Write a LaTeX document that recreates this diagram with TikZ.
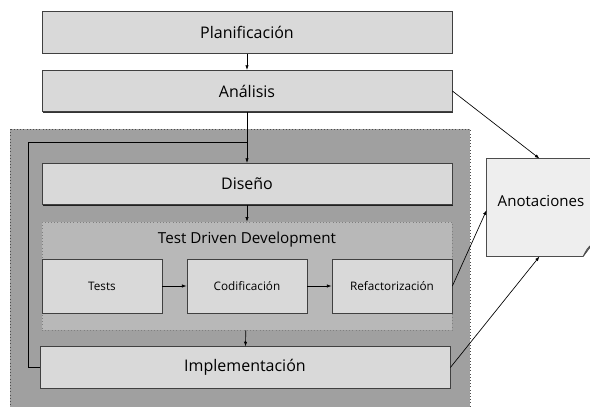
\documentclass[tikz,border=0pt]{standalone}
\usepackage{fontspec}
\setmainfont{Open Sans}
\usetikzlibrary{shadows,arrows.meta}
\definecolor{cajagris}{HTML}{D9D9D9}
\definecolor{fondogris}{HTML}{A0A0A0}
\definecolor{tddgris}{HTML}{B8B8B8}
\definecolor{notagris}{HTML}{EEEEEE}
\begin{document}
\begin{tikzpicture}[x=0.75pt,y=-0.75pt,
  fase/.style={draw=black!75,fill=cajagris,rectangle,line width=0.6pt,minimum width=307.5pt,minimum height=31pt,font=\fontsize{12}{14}\selectfont,
    drop shadow={shadow xshift=0.8pt,shadow yshift=-0.8pt,opacity=0.8,fill=black}},
  paso/.style={fase,minimum width=90pt,minimum height=40.5pt,font=\fontsize{8.8}{10}\selectfont},
  flecha/.style={-{Latex[length=3.5pt,width=2.5pt]},line width=0.5pt}]
\useasboundingbox (0,0) rectangle (590,407);
% iteracion
\draw[dotted,draw=black!70,fill=fondogris] (10,129) rectangle (470,412);
\node[fase] (P) at (247,32.5) {Planificación};
\node[fase] (A) at (247,91) {Análisis};
\node[fase] (D) at (247,184) {Diseño};
\node[draw=black!50,dotted,fill=tddgris,rectangle,minimum width=307.5pt,minimum height=81pt] (TDD) at (247,276) {};
\node[font=\fontsize{11.4}{13}\selectfont] (TT) at (247,240) {Test Driven Development};
\node[paso] (T) at (102,286) {Tests};
\node[paso] (C) at (247,286) {Codificación};
\node[paso] (R) at (392,286) {Refactorización};
\node[fase] (I) at (245,367.5) {Implementación};
% anotaciones
\node[rectangle,minimum width=79pt,minimum height=73pt] (N) at (539.5,207.5) {};
\draw[draw=black!70,line width=0.6pt,fill=notagris] (N.north west) -- (N.north east) -- ([yshift=9.5pt]N.south east)
  -- ([xshift=-7pt]N.south east) -- (N.south west) -- cycle;
\draw[draw=black!70,line width=0.5pt,fill=black!20] ([yshift=9.5pt]N.south east) .. controls ([xshift=-4pt,yshift=6pt]N.south east) .. ([xshift=-7pt]N.south east)
  -- ([xshift=-4pt,yshift=4pt]N.south east) -- cycle;
\node[font=\fontsize{11.3}{13}\selectfont] (NT) at (541,201) {Anotaciones};
\draw[flecha] (P) -- (A);
\draw[flecha] (A) -- (D);
\draw[flecha] (D) -- (TDD);
\draw[flecha] (TDD) -- (I);
\draw[flecha] (T) -- (C);
\draw[flecha] (C) -- (R);
\draw[line width=0.5pt] (I.west) -- (28,367.5) -- (28,142) -- (247,142);
\draw[flecha] (A.east) -- (N.north);
\draw[flecha] (R.east) -- ([yshift=-2pt]N.west);
\draw[flecha] (I.east) -- (N.south);
\end{tikzpicture}
\end{document}
